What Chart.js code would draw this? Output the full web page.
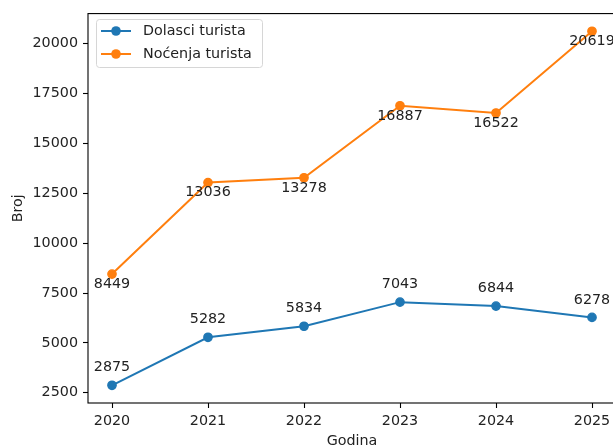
<!DOCTYPE html>
<html>
<head>
<meta charset="utf-8">
<script src="https://cdn.jsdelivr.net/npm/chart.js@4.4.0/dist/chart.umd.min.js"></script>
<style>
  html, body { margin: 0; padding: 0; overflow: hidden; background: #fff; }
  #wrap { width: 640px; height: 448px; }
</style>
</head>
<body>
<div id="wrap"><canvas id="chart" width="640" height="448"></canvas></div>
<script>
// data
const godine = [2020, 2021, 2022, 2023, 2024, 2025];
const dolasci = [2875, 5282, 5834, 7043, 6844, 6278];
const nocenja = [8449, 13036, 13278, 16887, 16522, 20619];
const yTicks = [2500, 5000, 7500, 10000, 12500, 15000, 17500, 20000];

const BLUE = '#1f77b4';
const ORANGE = '#ff7f0e';
const FONT = 'DejaVu Sans';
const FS = 14.3;

function toPoints(vals) {
    return godine.map((g, i) => ({x: g, y: vals[i]}));
}

// matplotlib-like 5% margins
const allY = dolasci.concat(nocenja);
const yLo = Math.min(...allY), yHi = Math.max(...allY);
const yPad = (yHi - yLo) * 0.05;

// frame around the axes + value labels
const annotatePlugin = {
    id: 'annotate',
    afterDatasetsDraw(chart) {
        const ctx = chart.ctx;
        const a = chart.chartArea;
        ctx.save();
        ctx.strokeStyle = '#000';
        ctx.lineWidth = 1.1;
        ctx.strokeRect(a.left, a.top, a.right - a.left, a.bottom - a.top);

        ctx.font = FS + 'px "' + FONT + '"';
        ctx.fillStyle = '#222';
        ctx.textAlign = 'center';
        ctx.textBaseline = 'alphabetic';
        chart.data.datasets.forEach((ds, di) => {
            const meta = chart.getDatasetMeta(di);
            meta.data.forEach((el, i) => {
                const off = di === 0 ? -13.9 : 13.9;
                ctx.fillText(String(ds.data[i].y), el.x, el.y + off);
            });
        });
        ctx.restore();
    },
    afterDraw(chart) {
        // legend box, upper left inside axes
        const ctx = chart.ctx;
        const x0 = 96, y0 = 19, w = 166, h = 48;
        ctx.save();
        ctx.beginPath();
        ctx.roundRect(x0 + 0.5, y0 + 0.5, w, h, 3);
        ctx.fillStyle = 'rgba(255,255,255,0.8)';
        ctx.fill();
        ctx.strokeStyle = '#d6d6d6';
        ctx.lineWidth = 1;
        ctx.stroke();
        const rows = [{c: BLUE, t: 'Dolasci turista', y: 31}, {c: ORANGE, t: 'Noćenja turista', y: 54}];
        rows.forEach(r => {
            ctx.strokeStyle = r.c;
            ctx.lineWidth = 2;
            ctx.beginPath();
            ctx.moveTo(101, r.y);
            ctx.lineTo(131, r.y);
            ctx.stroke();
            ctx.fillStyle = r.c;
            ctx.beginPath();
            ctx.arc(116, r.y, 4.8, 0, Math.PI * 2);
            ctx.fill();
            ctx.fillStyle = '#222';
            ctx.font = FS + 'px "' + FONT + '"';
            ctx.textAlign = 'left';
            ctx.textBaseline = 'middle';
            ctx.fillText(r.t, 143, r.y);
        });
        ctx.restore();
    }
};

function lineSet(label, vals, color) {
    return {
        label: label,
        data: toPoints(vals),
        borderColor: color,
        backgroundColor: color,
        borderWidth: 2,
        pointRadius: 4.2,
        pointBorderWidth: 1.3,
        pointBorderColor: color,
        tension: 0
    };
}

const ctx = document.getElementById('chart').getContext('2d');
new Chart(ctx, {
    type: 'line',
    data: {
        datasets: [
            lineSet('Dolasci turista', dolasci, BLUE),
            lineSet('Noćenja turista', nocenja, ORANGE)
        ]
    },
    options: {
        responsive: false,
        animation: false,
        layout: {padding: {left: 0, top: 12, right: 24, bottom: 0}},
        plugins: {
            legend: {display: false},
            tooltip: {enabled: false}
        },
        scales: {
            x: {
                type: 'linear',
                min: 2019.75,
                max: 2025.25,
                afterBuildTicks: s => { s.ticks = godine.map(v => ({value: v})); },
                afterFit: s => { s.height = 45; },
                grid: {drawOnChartArea: false, drawTicks: true, tickLength: 5, tickColor: '#000', tickWidth: 1.1},
                border: {display: false},
                ticks: {
                    padding: 5,
                    color: '#222',
                    font: {family: FONT, size: FS},
                    maxRotation: 0,
                    callback: v => String(v)
                },
                title: {
                    display: true,
                    text: 'Godina',
                    color: '#222',
                    font: {family: FONT, size: FS, lineHeight: 1},
                    padding: {top: 0, bottom: 0}
                }
            },
            y: {
                min: yLo - yPad,
                max: yHi + yPad,
                afterBuildTicks: s => { s.ticks = yTicks.map(v => ({value: v})); },
                afterFit: s => { s.width = 88; },
                grid: {drawOnChartArea: false, drawTicks: true, tickLength: 5, tickColor: '#000', tickWidth: 1.1},
                border: {display: false},
                ticks: {
                    padding: 5,
                    color: '#222',
                    font: {family: FONT, size: FS},
                    callback: v => String(v)
                },
                title: {
                    display: true,
                    text: 'Broj',
                    color: '#222',
                    font: {family: FONT, size: FS, lineHeight: 1.2},
                    padding: {top: 10, bottom: 0}
                }
            }
        }
    },
    plugins: [annotatePlugin]
});
</script>
</body>
</html>
